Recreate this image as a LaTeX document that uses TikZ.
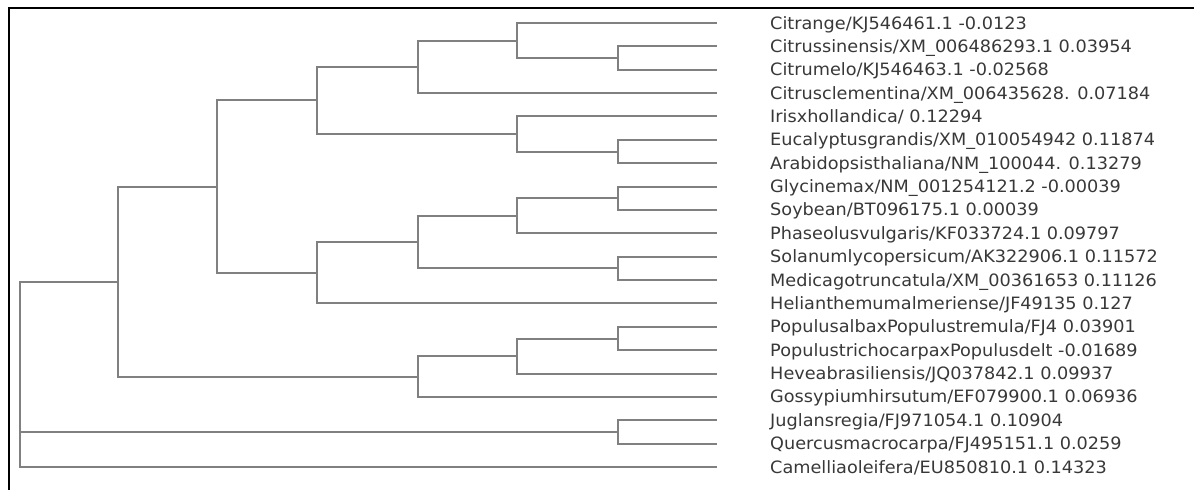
\documentclass[tikz,border=0pt]{standalone}
\usepackage{fontspec}
\setmainfont{DejaVu Sans}
\newcommand{\lbl}[1]{\scalebox{1.04}[1]{#1}}
\begin{document}
\begin{tikzpicture}[x=1pt,y=-1pt,
  branch/.style={draw=black!50, line width=2pt},
  frame/.style={draw=black, line width=2.6pt},
  leaflabel/.style={anchor=base west, inner sep=0pt, text=black!78, font=\fontsize{17}{20}\selectfont}]
\useasboundingbox (0,0) rectangle (1194,490);
% frame
\coordinate (fb) at (9,490);
\coordinate (fc) at (9,8);
\coordinate (fr) at (1194,8);
\draw[frame] (fb) -- (fc) -- (fr);
% leaves
\foreach \i in {0,...,19}{
  \coordinate (l\i) at (717,{23+23.37*\i});
  \coordinate (p\i) at (770,{29+23.37*\i});
}
\node[leaflabel] (t0) at (p0) {\lbl{Citrange/KJ546461.1 -0.0123}};
\node[leaflabel] (t1) at (p1) {\lbl{Citrussinensis/XM\_006486293.1 0.03954}};
\node[leaflabel] (t2) at (p2) {\lbl{Citrumelo/KJ546463.1 -0.02568}};
\node[leaflabel] (t3) at (p3) {\lbl{Citrusclementina/XM\_006435628. 0.07184}};
\node[leaflabel] (t4) at (p4) {\lbl{Irisxhollandica/ 0.12294}};
\node[leaflabel] (t5) at (p5) {\lbl{Eucalyptusgrandis/XM\_010054942 0.11874}};
\node[leaflabel] (t6) at (p6) {\lbl{Arabidopsisthaliana/NM\_100044. 0.13279}};
\node[leaflabel] (t7) at (p7) {\lbl{Glycinemax/NM\_001254121.2 -0.00039}};
\node[leaflabel] (t8) at (p8) {\lbl{Soybean/BT096175.1 0.00039}};
\node[leaflabel] (t9) at (p9) {\lbl{Phaseolusvulgaris/KF033724.1 0.09797}};
\node[leaflabel] (t10) at (p10) {\lbl{Solanumlycopersicum/AK322906.1 0.11572}};
\node[leaflabel] (t11) at (p11) {\lbl{Medicagotruncatula/XM\_00361653 0.11126}};
\node[leaflabel] (t12) at (p12) {\lbl{Helianthemumalmeriense/JF49135 0.127}};
\node[leaflabel] (t13) at (p13) {\lbl{PopulusalbaxPopulustremula/FJ4 0.03901}};
\node[leaflabel] (t14) at (p14) {\lbl{PopulustrichocarpaxPopulusdelt -0.01689}};
\node[leaflabel] (t15) at (p15) {\lbl{Heveabrasiliensis/JQ037842.1 0.09937}};
\node[leaflabel] (t16) at (p16) {\lbl{Gossypiumhirsutum/EF079900.1 0.06936}};
\node[leaflabel] (t17) at (p17) {\lbl{Juglansregia/FJ971054.1 0.10904}};
\node[leaflabel] (t18) at (p18) {\lbl{Quercusmacrocarpa/FJ495151.1 0.0259}};
\node[leaflabel] (t19) at (p19) {\lbl{Camelliaoleifera/EU850810.1 0.14323}};
% internal nodes
\coordinate (nSinMel) at (618,58.05);
\coordinate (nCitr) at (517,40.5);
\coordinate (nCit) at (418,66.8);
\coordinate (nEucAra) at (618,151.55);
\coordinate (nIris) at (517,134.0);
\coordinate (nAone) at (317,100.4);
\coordinate (nGly) at (618,198.3);
\coordinate (nPha) at (517,215.8);
\coordinate (nSol) at (618,268.4);
\coordinate (nLeg) at (418,242.1);
\coordinate (nAtwo) at (317,272.75);
\coordinate (nA) at (217,186.6);
\coordinate (nPop) at (618,338.5);
\coordinate (nHev) at (517,356.05);
\coordinate (nB) at (418,376.5);
\coordinate (nBig) at (118,281.55);
\coordinate (nJug) at (618,432);
\coordinate (root) at (20,374);
% edges
\path[branch]
  (nSinMel) |- (l1)  (nSinMel) |- (l2)
  (nCitr) |- (l0)  (nCitr) |- (nSinMel)
  (nCit) |- (nCitr)  (nCit) |- (l3)
  (nEucAra) |- (l5)  (nEucAra) |- (l6)
  (nIris) |- (l4)  (nIris) |- (nEucAra)
  (nAone) |- (nCit)  (nAone) |- (nIris)
  (nGly) |- (l7)  (nGly) |- (l8)
  (nPha) |- (nGly)  (nPha) |- (l9)
  (nSol) |- (l10)  (nSol) |- (l11)
  (nLeg) |- (nPha)  (nLeg) |- (nSol)
  (nAtwo) |- (nLeg)  (nAtwo) |- (l12)
  (nA) |- (nAone)  (nA) |- (nAtwo)
  (nPop) |- (l13)  (nPop) |- (l14)
  (nHev) |- (nPop)  (nHev) |- (l15)
  (nB) |- (nHev)  (nB) |- (l16)
  (nBig) |- (nA)  (nBig) |- (nB)
  (nJug) |- (l17)  (nJug) |- (l18)
  (root) |- (nBig)  (root) |- (nJug)  (root) |- (l19);
\end{tikzpicture}
\end{document}
